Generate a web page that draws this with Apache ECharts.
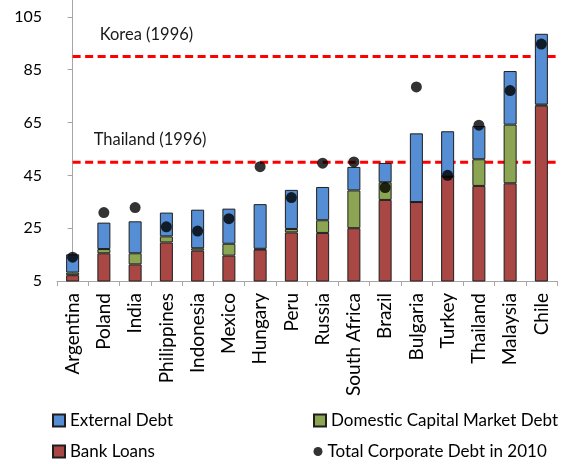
<!DOCTYPE html>
<html>
<head>
<meta charset="utf-8">
<script src="https://cdn.jsdelivr.net/npm/echarts@6/dist/echarts.min.js"></script>
<style>
	html, body { margin: 0; padding: 0; background: #fff; }
	#chart { width: 563px; height: 464px; }
</style>
</head>
<body>
<div id="chart"></div>
<script>
"use strict";

// data (percent of GDP)
const countries = ["Argentina", "Poland", "India", "Philippines", "Indonesia", "Mexico", "Hungary", "Peru",
	"Russia", "South Africa", "Brazil", "Bulgaria", "Turkey", "Thailand", "Malaysia", "Chile"];
const bankLoans = [7.2, 15.5, 11.3, 19.6, 16.5, 14.6, 16.9, 23.4, 23.2, 25.0, 35.7, 34.9, 44.5, 41.0, 42.0, 71.4];
const domesticDebt = [1.0, 1.6, 4.2, 2.3, 0.9, 4.5, 0.3, 1.3, 4.8, 14.3, 6.7, 0.0, 0.0, 10.1, 22.2, 0.4];
const externalDebt = [6.9, 10.0, 12.1, 9.0, 14.6, 13.3, 16.9, 14.8, 12.6, 8.9, 7.3, 26.0, 17.2, 12.6, 20.3, 26.8];
const totalDebt2010 = [14.0, 30.9, 32.8, 25.5, 23.9, 28.6, 48.3, 36.6, 49.6, 50.1, 40.4, 78.5, 45.0, 64.0, 77.1, 94.7];

const benchmarkNames = ["Korea (1996)", "Thailand (1996)"];
const benchmarkValues = [90, 50];

const yMin = 5;
const yMax = 111.4;
const yStep = 20;

const font = "Lato";
const blue = "#558ed5";
const green = "#8ba552";
const red = "#a94745";
const edge = "#1e1e1e";

const chart = echarts.init(document.getElementById("chart"));

const barSeries = (name, data, color) => ({
	name: name,
	type: "bar",
	stack: "debt",
	barWidth: 13,
	data: data,
	itemStyle: { color: color, borderColor: edge, borderWidth: 1 },
	silent: true
});

// dashed benchmark lines, from the first bar to the right edge
const labelShift = [22, 16];
const benchmarkSeries = benchmarkNames.map((name, i) => ({
	name: name,
	type: "line",
	xAxisIndex: 1,
	clip: false,
	silent: true,
	symbol: "circle",
	symbolSize: 0,
	z: 1,
	lineStyle: { color: "#ff0000", width: 3, type: [8, 4.5] },
	itemStyle: { color: "transparent" },
	data: [
		{
			value: [0, benchmarkValues[i]],
			label: {
				show: true,
				formatter: name,
				position: "right",
				offset: [labelShift[i], -22],
				fontFamily: font,
				fontSize: 16.5,
				color: "#1a1a1a"
			}
		},
		[countries.length - 0.3, benchmarkValues[i]]
	]
}));

// one legend per entry, laid out as a 2x2 block
const legendText = { fontFamily: font, fontSize: 17, color: "#000", lineHeight: 17 };
const legendItem = (name, left, top, size, icon) => ({
	left: left,
	top: top,
	itemWidth: size,
	itemHeight: size,
	data: [{ name: name, icon: icon }],
	textStyle: legendText
});

chart.setOption({
	animation: false,
	backgroundColor: "#fff",
	grid: { left: 57, right: 6, top: 0, bottom: 183, containLabel: false },
	legend: [
		legendItem("External Debt", 47, 407, 12, "rect"),
		legendItem("Bank Loans", 47, 438, 12, "rect"),
		legendItem("Domestic Capital Market Debt", 308, 407, 12, "rect"),
		legendItem("Total Corporate Debt in 2010", 308.5, 438, 9, "circle")
	],
	xAxis: [
		{
			type: "category",
			data: countries,
			axisLine: { lineStyle: { color: "#a6a6a6", width: 1 } },
			axisTick: { show: true, length: 5, interval: 0, lineStyle: { color: "#a6a6a6" } },
			axisLabel: { interval: 0, rotate: 90, margin: 12, fontFamily: font, fontSize: 19, color: "#000" }
		},
		{
			type: "value",
			show: false,
			min: -0.5,
			max: countries.length - 0.5
		}
	],
	yAxis: {
		type: "value",
		min: yMin,
		max: yMax,
		interval: yStep,
		splitLine: { show: false },
		axisLine: { show: true, lineStyle: { color: "#a6a6a6", width: 1 } },
		axisTick: { show: true, length: 5, lineStyle: { color: "#a6a6a6" } },
		axisLabel: { showMaxLabel: false, margin: 15, fontFamily: font, fontSize: 16, color: "#000" }
	},
	series: [
		barSeries("Bank Loans", bankLoans, red),
		barSeries("Domestic Capital Market Debt", domesticDebt, green),
		barSeries("External Debt", externalDebt, blue),
		...benchmarkSeries,
		{
			name: "Total Corporate Debt in 2010",
			type: "scatter",
			data: totalDebt2010,
			symbolSize: 11,
			z: 5,
			itemStyle: { color: "#000" },
			silent: true
		}
	]
});
</script>
</body>
</html>
